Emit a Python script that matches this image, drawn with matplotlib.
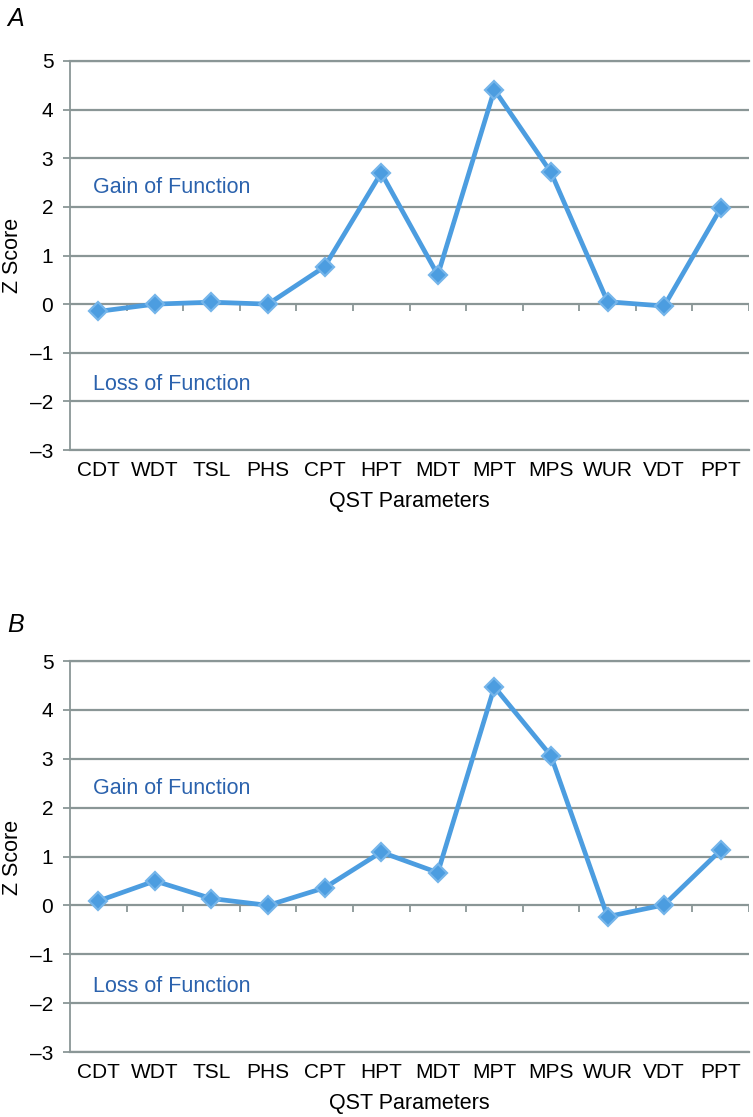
import matplotlib
matplotlib.use("Agg")
import matplotlib.pyplot as plt
import numpy as np

categories = ["CDT", "WDT", "TSL", "PHS", "CPT", "HPT", "MDT", "MPT", "MPS", "WUR", "VDT", "PPT"]
z_a = [-0.15, 0.0, 0.04, 0.0, 0.77, 2.70, 0.60, 4.41, 2.71, 0.05, -0.04, 1.97]
z_b = [0.09, 0.50, 0.14, 0.0, 0.36, 1.09, 0.67, 4.47, 3.06, -0.23, 0.01, 1.13]
panel_labels = ["A", "B"]
y_ticks = [-3, -2, -1, 0, 1, 2, 3, 4, 5]

font = "Liberation Sans"
line_col = "#4c9de0"
text_col = "#2b62ad"
grid_col = "#8a9696"

fig = plt.figure(figsize=(7.53, 11.17), dpi=100)
W, H = 753, 1117

def make_axes(top_px, bot_px, left_px=70, right_px=749):
    return fig.add_axes([left_px / W, 1 - bot_px / H, (right_px - left_px) / W, (bot_px - top_px) / H])

axes = [make_axes(61, 450), make_axes(661, 1052)]
series = [z_a, z_b]

for ax, vals in zip(axes, series):
    x = np.arange(len(categories))
    ax.set_xlim(-0.5, len(categories) - 0.5)
    ax.set_ylim(-3, 5)
    ax.set_yticks(y_ticks)
    ax.set_yticklabels([("\u2013%d" % -t) if t < 0 else str(t) for t in y_ticks],
                       fontname=font, fontsize=15)
    ax.yaxis.grid(True, color=grid_col, linewidth=1.6)
    ax.set_axisbelow(True)
    ax.spines["right"].set_visible(False)
    for s in ["top", "bottom", "left"]:
        ax.spines[s].set_color(grid_col)
        ax.spines[s].set_linewidth(1.6 if s != "left" else 1.3)
    ax.tick_params(axis="y", length=5, color=grid_col, width=1.3, pad=7)
    ax.set_xticks(x)
    ax.set_xticklabels(categories, fontname=font, fontsize=15)
    ax.tick_params(axis="x", length=0, pad=8)
    # category boundary ticks on the zero line
    bx = np.arange(len(categories) + 1) - 0.5
    ax.vlines(bx[1:], -0.14, 0, color=grid_col, linewidth=1.3, zorder=1)
    ax.plot(x, vals, color=line_col, linewidth=3.4, marker="D", markersize=9,
            markerfacecolor=line_col, markeredgecolor="#74b5ea", markeredgewidth=1.6, zorder=3)
    ax.set_xlabel("QST Parameters", fontname=font, fontsize=15.5, labelpad=8)
    ax.text(-0.09, 2.4, "Gain of Function", fontname=font, fontsize=15.5, color=text_col,
            va="center", ha="left")
    ax.text(-0.09, -1.65, "Loss of Function", fontname=font, fontsize=15.5, color=text_col,
            va="center", ha="left")

for yc in (255, 857):
    fig.text(2 / W, 1 - yc / H, "Z Score", fontname=font, fontsize=15.5, rotation=90,
             ha="left", va="center")

fig.text(7 / W, 1 - 7 / H, panel_labels[0], fontname=font, fontstyle="italic", fontsize=18, va="top", ha="left")
fig.text(7 / W, 1 - 613 / H, panel_labels[1], fontname=font, fontstyle="italic", fontsize=18, va="top", ha="left")

fig.savefig("out.png", dpi=100)
